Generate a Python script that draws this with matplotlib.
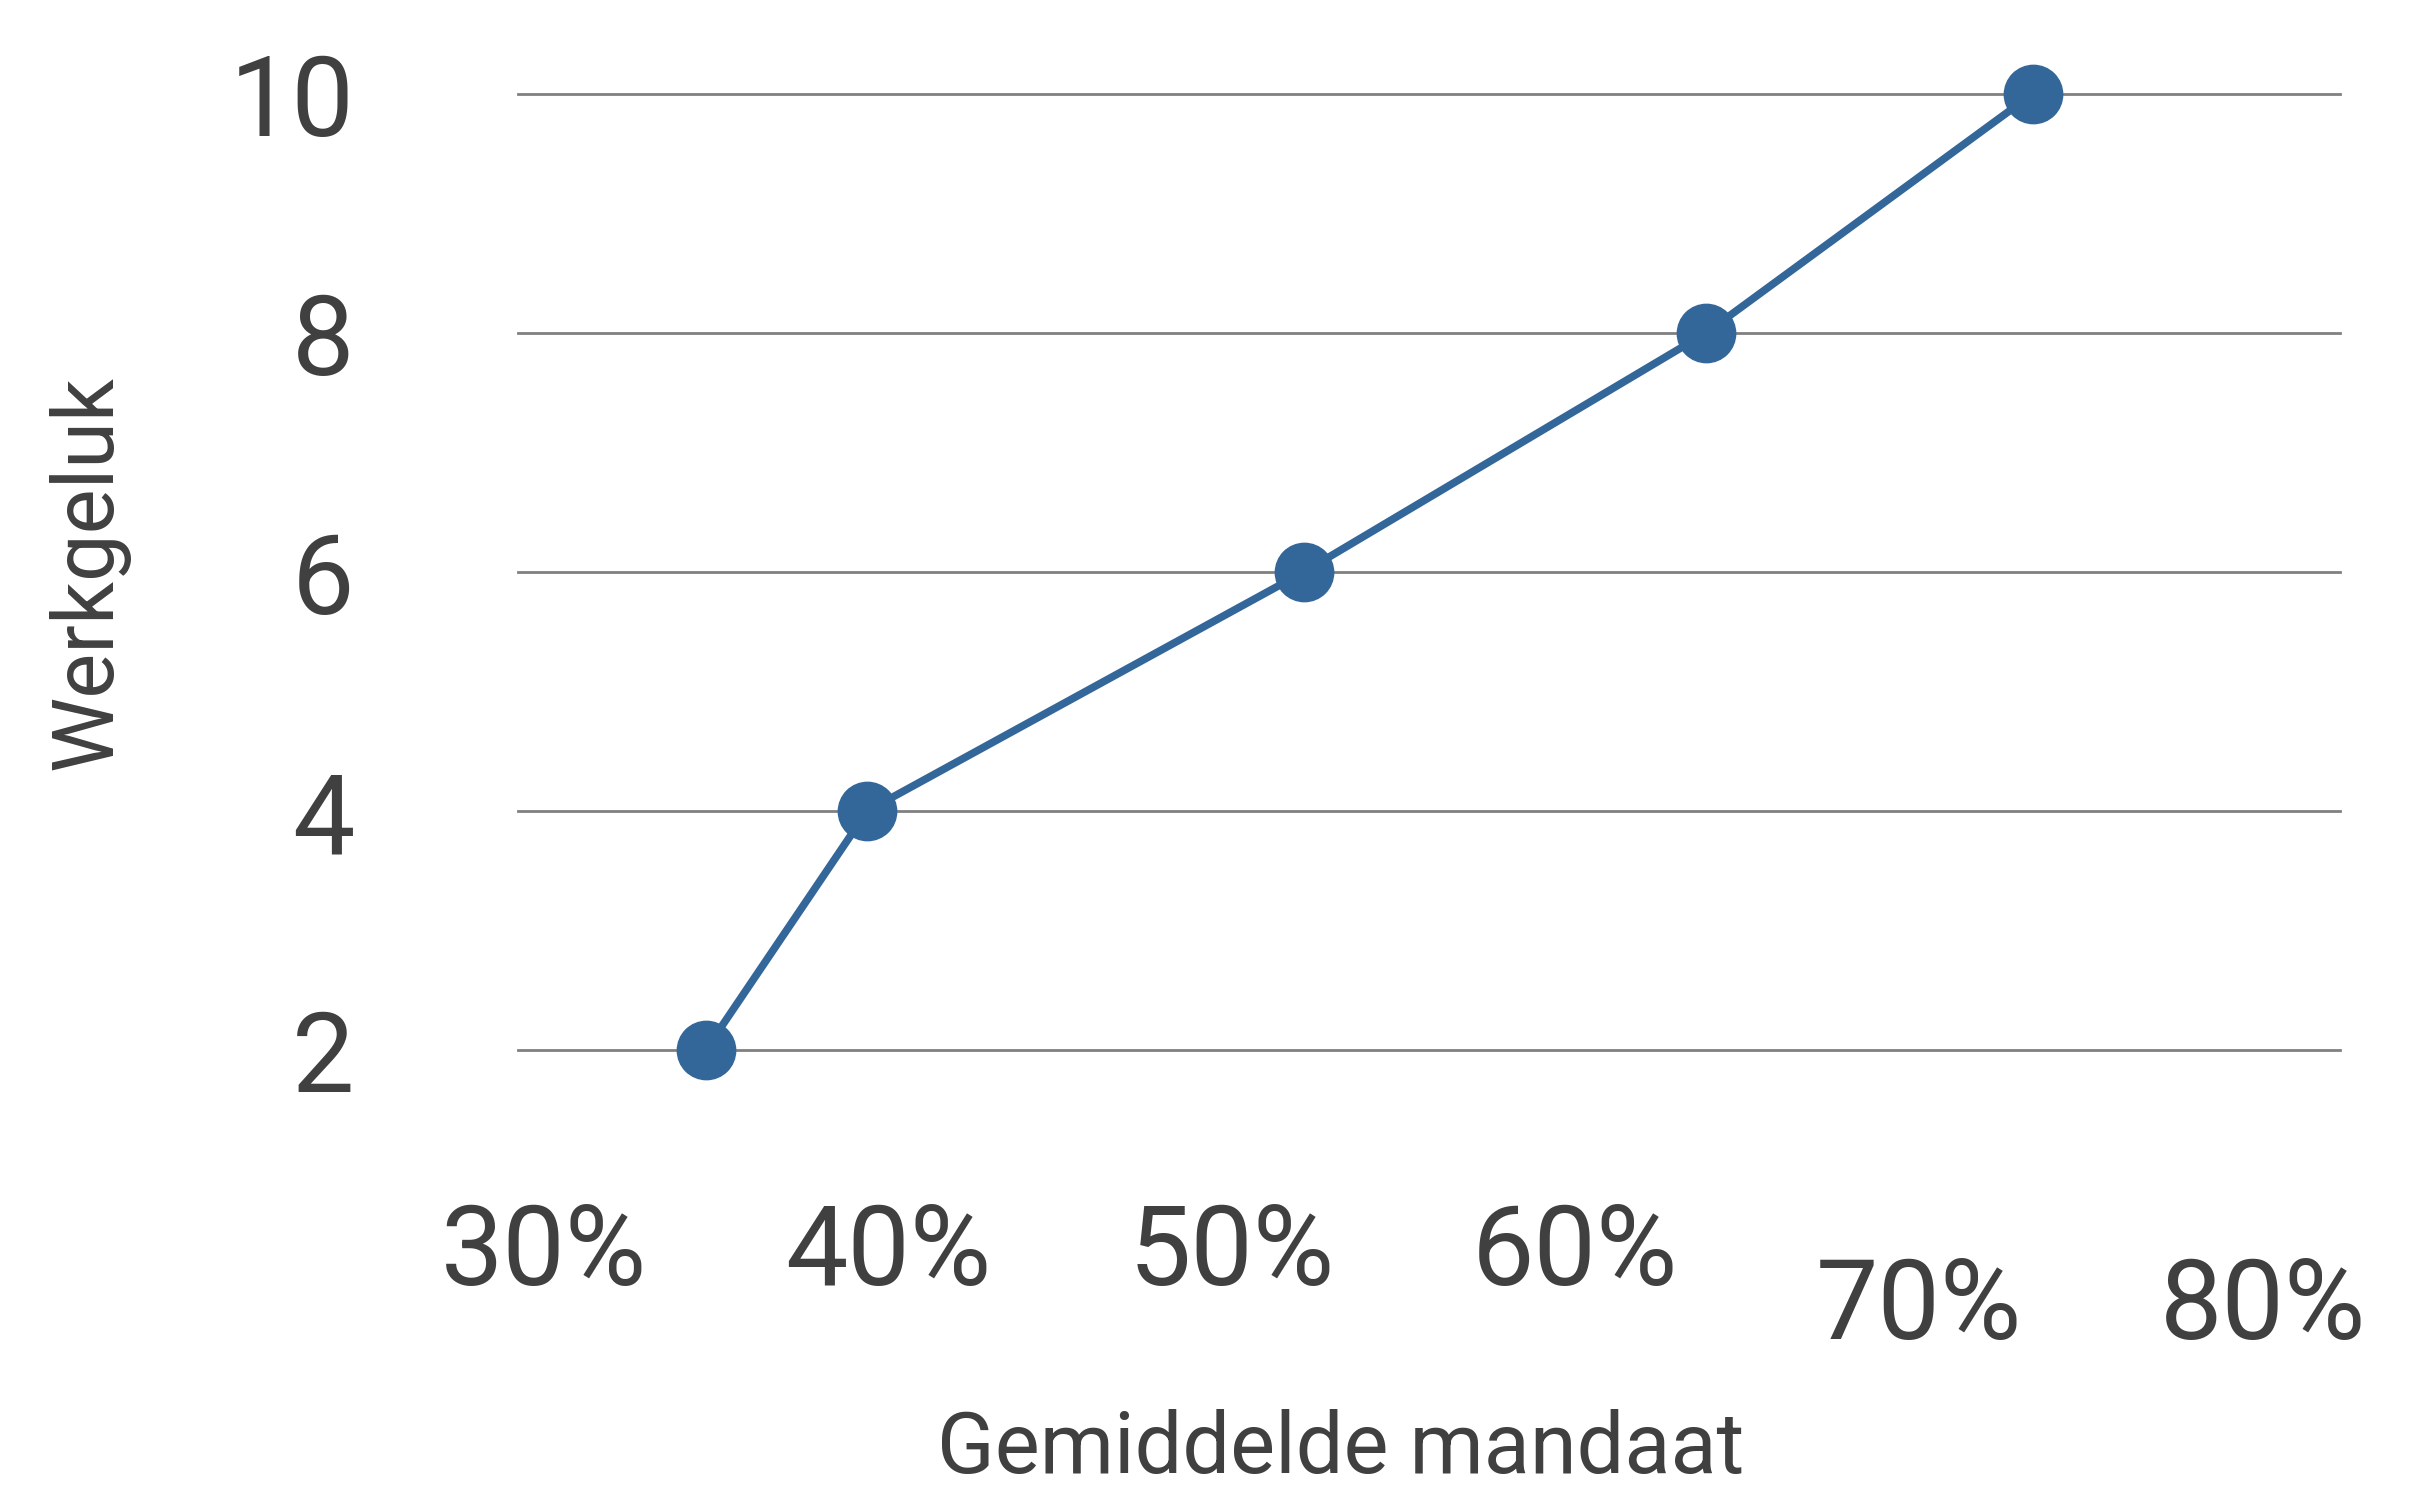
import numpy as np
import matplotlib
matplotlib.use('Agg')
import matplotlib.pyplot as plt
from matplotlib.transforms import ScaledTranslation

plt.rcParams['font.family'] = ['Roboto', 'DejaVu Sans']

# data
mandaat = [34.7, 39.4, 52.1, 63.8, 73.3]      # gemiddelde mandaat (%)
werkgeluk = [2, 4, 6, 8, 10]
x_ticks = [30, 40, 50, 60, 70, 80]
x_labels = ['30%', '40%', '50%', '60%', '70%', '80%']
y_ticks = [2, 4, 6, 8, 10]

text_col = '#404040'
line_col = '#336699'
grid_col = '#808080'

fig = plt.figure(figsize=(24.17, 14.89), dpi=100)
ax = fig.add_axes([0.2143, 0.2948, 0.9681 - 0.2143, 0.9369 - 0.2948])

ax.plot(mandaat, werkgeluk, '-o', color=line_col, lw=5.5, ms=42,
        clip_on=False, zorder=3)

ax.set_xlim(29.24, 82.24)
ax.set_ylim(2, 10)
ax.set_xticks(x_ticks)
ax.set_xticklabels(x_labels)
ax.set_yticks(y_ticks)
ax.yaxis.grid(True, color=grid_col, lw=2)
ax.set_axisbelow(True)
for gl in ax.get_ygridlines():
    gl.set_clip_on(False)
for s in ax.spines.values():
    s.set_visible(False)
ax.tick_params(axis='both', length=0, labelsize=80, colors=text_col)
ax.tick_params(axis='x', pad=109)
ax.tick_params(axis='y', pad=118)

# the last two x labels sit lower in the original
for lab in ax.get_xticklabels()[4:]:
    lab.set_transform(lab.get_transform() +
                      ScaledTranslation(0, -0.54, fig.dpi_scale_trans))

fig.text(1341 / 2417, 1 - 1449 / 1489, 'Gemiddelde mandaat', fontsize=61,
         color=text_col, ha='center', va='center')
fig.text(88 / 2417, 1 - 573 / 1489, 'Werkgeluk', fontsize=61,
         color=text_col, ha='center', va='center', rotation=90)

fig.savefig('out.png', dpi=100)
